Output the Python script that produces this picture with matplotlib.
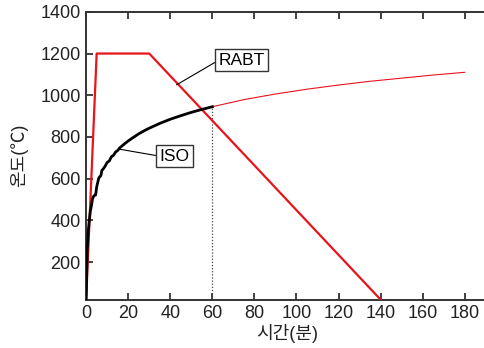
import matplotlib
matplotlib.use("Agg")
import matplotlib.pyplot as plt

plt.rcParams['font.family'] = ['Liberation Sans', 'Noto Sans CJK KR']

# ── Fire curves (time in minutes, temperature in °C) ──────────────────────────
iso_time = [0, 0.5, 1, 1.5, 2, 2.5, 3, 3.5, 4, 4.5, 5, 6, 7, 7.5, 8, 9, 10,
            11, 12, 13, 14, 15, 16, 18, 20, 22, 25, 28, 30, 35, 40, 45, 50,
            55, 60]
iso_temp = [20, 260, 349, 400, 445, 470, 502, 515, 520, 522, 560, 603, 615,
            640, 645, 660, 678, 685, 705, 712, 728, 735, 748, 765, 781, 795,
            815, 832, 842, 865, 885, 902, 918, 932, 945]

iso_ext_time = [60, 75, 90, 105, 120, 135, 150, 165, 180]
iso_ext_temp = [945, 979, 1006, 1029, 1049, 1067, 1082, 1097, 1110]

rabt_time = [0, 5, 30, 140]
rabt_temp = [20, 1200, 1200, 20]

x_ticks = list(range(0, 181, 20))
y_ticks = list(range(200, 1401, 200))

fig = plt.figure(figsize=(4.84, 3.48), dpi=100)
ax = fig.add_axes([0.178, 0.139, 0.83, 0.827])

ax.plot(rabt_time, rabt_temp, color="#e8141c", lw=1.6, zorder=3)
ax.plot(iso_ext_time, iso_ext_temp, color="#e8141c", lw=0.8, zorder=3)
ax.plot(iso_time, iso_temp, color="black", lw=2.0, zorder=4)
ax.plot([60, 60], [20, iso_ext_temp[0]], color="#444444", lw=0.9,
        ls=(0, (1, 1.5)), zorder=2)

ax.set_xlim(0, 191)
ax.set_ylim(20, 1400)
ax.set_xticks(x_ticks)
ax.set_yticks(y_ticks)
ax.tick_params(direction="in", length=5, width=1.2, labelsize=13,
               colors="#222222", top=True, pad=4)
for side in ["left", "bottom", "top"]:
    ax.spines[side].set_linewidth(1.4)
    ax.spines[side].set_color("#333333")
ax.spines["right"].set_visible(False)

ax.set_xlabel("시간(분)", fontsize=13, color="#222222", labelpad=1)
ax.set_ylabel("온도(℃)", fontsize=13, color="#222222", labelpad=9)

box = dict(boxstyle="square,pad=0.2", fc="white", ec="#333333", lw=1)
ax.annotate("RABT", xy=(43, 1050), xytext=(74, 1168), fontsize=12.5,
            bbox=box, va="center", ha="center",
            arrowprops=dict(arrowstyle="-", lw=0.8, color="black",
                            shrinkA=0, shrinkB=0,
                            relpos=(0, 0.5)))
ax.annotate("ISO", xy=(15.5, 742), xytext=(42, 708), fontsize=12.5,
            bbox=box, va="center", ha="center",
            arrowprops=dict(arrowstyle="-", lw=0.8, color="black",
                            shrinkA=0, shrinkB=0,
                            relpos=(0, 0.5)))

fig.savefig("out.png", dpi=100)
